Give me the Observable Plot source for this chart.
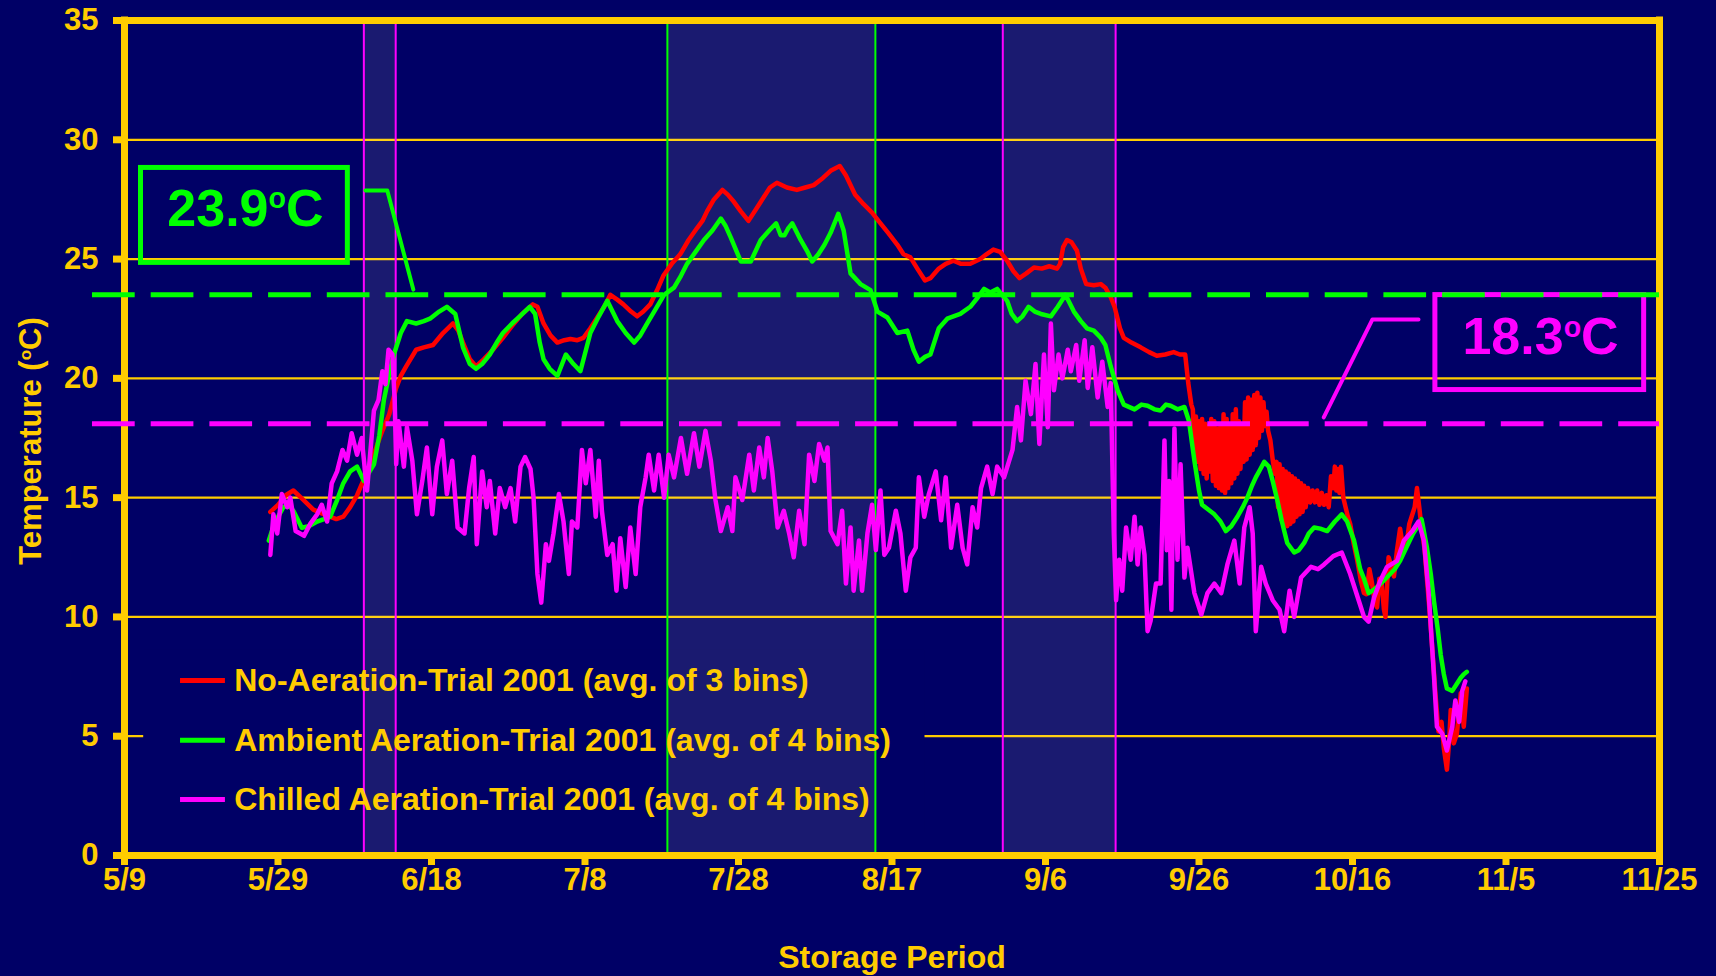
<!DOCTYPE html>
<html><head><meta charset="utf-8">
<script src="https://cdn.jsdelivr.net/npm/d3@7"></script>
<script src="https://cdn.jsdelivr.net/npm/@observablehq/plot@0.6"></script>
<style>
html,body{margin:0;padding:0;background:#000066;}
#chart{width:1716px;height:976px;overflow:hidden;}
</style></head><body><div id="chart"></div>
<script>
// ---------------- DATA ----------------
// Day offsets from 9 May 2001, temperature in °C
const noAeration = [[19.0,14.4],[20.0,14.7],[21.0,15.1],[22.0,15.3],[23.0,15.0],[24.6,14.5],[26.0,14.3],[27.6,14.1],[28.5,14.2],[29.4,14.6],[30.3,15.1],[31.1,15.7],[32.0,16.4],[32.8,17.1],[33.6,17.8],[34.5,18.5],[35.4,19.6],[36.0,20.1],[36.7,20.5],[38.0,21.2],[39.0,21.3],[40.2,21.4],[41.5,21.9],[42.8,22.3],[43.5,22.0],[44.1,21.5],[45.0,20.8],[45.8,20.5],[46.8,20.8],[48.0,21.2],[49.3,21.7],[50.5,22.2],[51.8,22.7],[53.2,23.1],[53.8,23.0],[54.6,22.3],[55.5,21.8],[56.4,21.5],[57.3,21.6],[58.1,21.65],[59.0,21.6],[59.8,21.7],[60.7,22.1],[61.6,22.55],[62.5,23.0],[63.3,23.5],[64.2,23.3],[65.0,23.1],[66.0,22.8],[66.8,22.6],[67.6,22.8],[68.5,23.1],[69.4,23.7],[70.2,24.3],[71.3,24.8],[72.4,25.2],[73.5,25.8],[74.6,26.3],[75.3,26.6],[75.9,27.0],[76.8,27.5],[77.9,27.9],[78.6,27.7],[79.4,27.4],[80.3,27.0],[81.3,26.6],[82.3,27.1],[83.3,27.6],[84.1,28.0],[85.0,28.2],[86.3,28.0],[87.6,27.9],[88.7,28.0],[89.8,28.1],[91.0,28.4],[92.0,28.7],[93.2,28.9],[94.0,28.5],[95.2,27.7],[96.3,27.3],[97.4,26.95],[98.5,26.5],[99.5,26.1],[100.7,25.6],[101.5,25.2],[102.4,25.07],[103.3,24.6],[104.3,24.1],[105.0,24.2],[106.1,24.6],[107.0,24.8],[108.0,24.93],[109.0,24.8],[110.2,24.8],[111.5,25.0],[112.3,25.2],[113.2,25.4],[114.1,25.3],[115.0,24.93],[115.8,24.5],[116.6,24.2],[117.5,24.4],[118.5,24.65],[119.5,24.6],[120.5,24.7],[121.5,24.6],[121.9,24.8],[122.3,25.5],[122.8,25.8],[123.4,25.7],[124.1,25.35],[124.6,24.6],[125.3,23.95],[126.3,23.9],[127.2,23.95],[127.8,23.8],[128.5,23.4],[129.0,23.0],[129.7,22.1],[130.2,21.7],[131.2,21.5],[132.4,21.3],[133.5,21.1],[134.5,20.95],[135.6,21.0],[136.7,21.1],[137.5,21.0],[138.2,21.0],[138.6,19.8],[139.0,18.9],
[139.2,18.7],[139.4,16.9],[139.6,18.4],[139.8,16.5],[140.0,18.2],[140.2,16.2],[140.4,18.3],[140.6,16.0],[140.8,18.1],[141.0,15.8],[141.2,18.0],[141.4,16.1],[141.6,18.3],[141.8,15.7],[142.0,18.2],[142.2,15.5],[142.4,17.9],[142.6,15.4],[142.8,18.0],[143.0,15.3],[143.2,18.5],[143.4,15.2],[143.6,18.3],[143.8,15.4],[144.0,18.0],[144.2,15.6],[144.4,18.5],[144.6,15.8],[144.8,18.7],[145.0,16.0],[145.2,18.2],[145.4,16.2],[145.6,18.0],[145.8,16.5],[146.0,19.0],[146.2,16.6],[146.4,19.2],[146.6,16.8],[146.8,19.1],[147.0,17.0],[147.2,19.3],[147.4,17.2],[147.6,19.4],[147.8,17.5],[148.0,19.2],[148.2,17.8],[148.4,19.0],[148.6,18.0],[148.8,18.6],[149.0,17.8],[149.3,17.4],[149.6,16.6],[149.9,16.0],[150.1,16.5],[150.3,14.6],[150.5,16.4],[150.7,14.1],[150.9,16.2],[151.1,13.9],[151.3,16.1],[151.5,13.8],[151.7,16.0],[151.9,13.9],[152.1,15.9],[152.3,14.0],[152.5,15.8],[152.7,14.2],[152.9,15.7],[153.1,14.3],[153.3,15.6],[153.5,14.4],[153.7,15.5],[153.9,14.6],[154.2,15.4],[154.5,14.8],[154.8,15.3],[155.1,14.8],[155.4,15.3],[155.7,14.7],[156.0,15.2],[156.3,14.7],[156.6,15.1],[156.9,14.6],[157.2,15.9],[157.5,15.4],[157.7,16.3],[157.9,15.3],[158.1,16.2],[158.3,15.2],[158.5,16.3],[158.8,15.0],[159.1,14.6],[159.4,14.2],[159.7,13.9],[160.2,13.0],[160.6,12.4],[161.1,11.5],[161.5,11.0],[161.8,10.95],[162.2,12.0],[162.5,11.5],[162.9,10.6],[163.2,10.4],[163.5,11.6],[163.8,11.4],[164.1,10.3],[164.3,10.0],[164.7,12.5],[165.0,12.2],[165.4,11.7],[165.8,12.8],[166.2,13.7],[166.6,12.9],[167.1,13.2],[167.4,13.9],[167.7,14.2],[168.1,14.6],[168.4,15.4],[168.7,14.6],[168.9,14.0],[169.4,12.8],[169.8,11.2],[170.1,10.0],[170.5,8.2],[170.8,6.8],[171.2,5.2],[171.6,5.6],[171.9,4.5],[172.3,3.6],[172.6,4.8],[172.8,6.1],[173.2,4.7],[173.6,5.1],[174.1,6.8],[174.5,5.4],[174.9,7.0]];

const ambientAeration = [[18.8,13.2],[19.5,13.9],[20.7,14.6],[21.4,14.7],[22.0,14.45],[23.1,13.74],[24.0,13.8],[25.1,14.0],[26.0,14.1],[26.8,14.2],[27.7,14.9],[28.5,15.6],[29.4,16.1],[30.3,16.3],[31.2,15.7],[32.5,16.4],[33.2,17.6],[33.8,19.1],[34.5,20.2],[35.1,21.0],[36.0,21.9],[36.8,22.4],[38.0,22.3],[39.0,22.4],[39.8,22.5],[41.0,22.8],[42.0,23.0],[43.1,22.7],[43.6,22.0],[44.1,21.3],[45.0,20.6],[45.8,20.4],[46.6,20.6],[47.6,21.0],[48.5,21.5],[49.3,21.9],[50.5,22.3],[51.5,22.6],[52.8,23.0],[53.5,22.7],[54.1,21.5],[54.6,20.8],[55.4,20.4],[56.4,20.1],[57.5,21.0],[58.5,20.6],[59.4,20.3],[60.7,21.9],[61.8,22.6],[62.9,23.25],[64.2,22.4],[65.3,21.9],[66.4,21.5],[67.2,21.8],[68.1,22.3],[69.2,22.9],[70.3,23.5],[71.6,23.8],[72.5,24.3],[73.3,24.8],[74.4,25.3],[75.5,25.8],[76.6,26.2],[77.7,26.7],[78.3,26.4],[79.0,25.9],[80.3,24.9],[81.6,24.9],[82.9,25.8],[84.0,26.2],[84.9,26.5],[85.5,26.0],[86.0,26.0],[86.5,26.3],[87.0,26.5],[88.1,25.8],[89.0,25.3],[89.6,24.9],[90.4,25.2],[91.2,25.6],[92.0,26.1],[93.0,26.9],[93.7,26.2],[94.6,24.4],[95.9,23.95],[97.2,23.7],[98.1,22.8],[99.4,22.55],[100.7,21.9],[102.0,22.0],[102.8,21.2],[103.5,20.7],[104.3,20.9],[105.0,21.0],[106.1,22.1],[107.2,22.5],[108.9,22.7],[110.2,23.0],[111.2,23.4],[112.0,23.75],[112.8,23.6],[113.7,23.75],[115.0,23.25],[115.6,22.7],[116.3,22.4],[117.0,22.6],[117.8,23.0],[118.6,22.8],[119.4,22.7],[120.7,22.6],[121.6,23.0],[122.6,23.5],[123.7,22.8],[124.6,22.4],[125.4,22.1],[126.3,22.0],[127.2,21.7],[127.8,21.4],[128.5,20.5],[129.4,19.5],[130.2,18.9],[131.6,18.7],[132.5,18.9],[133.3,18.85],[134.2,18.7],[135.0,18.65],[135.7,18.9],[136.3,18.85],[137.2,18.7],[138.1,18.8],[138.7,18.2],[139.4,16.55],[140.0,15.3],[140.4,14.7],[141.2,14.5],[142.0,14.3],[142.8,14.0],[143.5,13.6],[144.2,13.8],[145.0,14.2],[145.7,14.6],[146.3,15.0],[146.9,15.5],[147.4,15.85],[148.0,16.2],[148.5,16.5],[149.1,16.3],[149.6,15.7],[150.2,14.9],[150.8,14.0],[151.5,13.1],[152.4,12.7],[153.0,12.8],[153.7,13.1],[154.3,13.5],[155.0,13.75],[155.8,13.7],[156.7,13.6],[157.7,14.0],[158.6,14.3],[159.3,14.0],[160.2,13.2],[161.0,12.0],[161.5,11.6],[162.1,11.0],[162.6,11.1],[163.2,11.25],[164.0,11.5],[164.9,11.8],[165.5,12.0],[166.2,12.35],[167.0,12.9],[167.9,13.5],[168.5,13.8],[169.0,14.1],[169.7,12.9],[170.2,11.8],[170.6,10.7],[171.1,9.5],[171.5,8.4],[171.9,7.6],[172.3,7.0],[173.0,6.9],[173.6,7.2],[174.1,7.45],[174.5,7.6],[174.9,7.7]];

const chilledAeration = [[19.0,12.6],[19.4,14.3],[19.9,13.5],[20.5,15.15],[21.2,14.6],[21.6,15.0],[22.3,13.6],[23.4,13.4],[24.2,13.9],[25.1,14.3],[25.7,14.7],[26.4,14.0],[27.0,15.6],[27.7,16.1],[28.4,17.0],[29.0,16.55],[29.6,17.7],[30.3,16.8],[30.9,17.5],[31.6,15.3],[32.0,16.8],[32.5,18.65],[33.1,19.1],[33.6,20.3],[34.0,19.75],[34.4,21.2],[34.9,21.0],[35.2,19.1],[35.4,16.4],[35.7,18.2],[36.4,16.3],[36.8,17.95],[37.5,16.55],[38.1,14.3],[38.8,15.7],[39.4,17.1],[40.1,14.3],[40.7,16.3],[41.4,17.4],[42.0,15.15],[42.7,16.55],[43.4,13.75],[44.3,13.5],[44.9,15.4],[45.5,16.7],[45.9,13.05],[46.6,16.1],[47.2,14.6],[47.6,15.7],[48.3,13.5],[48.9,15.4],[49.6,14.6],[50.3,15.4],[50.9,14.0],[51.6,16.3],[52.2,16.7],[52.9,16.2],[53.3,15.0],[53.8,11.8],[54.3,10.6],[54.9,13.05],[55.3,12.35],[55.9,13.5],[56.6,15.15],[57.2,14.0],[57.9,11.8],[58.3,14.0],[59.0,13.75],[59.6,17.0],[60.1,15.6],[60.7,17.0],[61.4,14.2],[61.8,16.55],[62.2,14.45],[62.9,12.6],[63.6,13.05],[64.1,11.1],[64.6,13.3],[65.3,11.25],[65.9,13.75],[66.6,11.8],[67.2,14.6],[67.9,15.85],[68.3,16.8],[69.0,15.3],[69.6,16.8],[70.3,15.0],[70.9,16.8],[71.6,15.85],[72.5,17.5],[73.3,16.0],[74.2,17.7],[74.9,16.3],[75.7,17.8],[76.4,16.55],[77.0,14.9],[77.7,13.6],[78.6,14.6],[79.2,13.6],[79.6,15.85],[80.5,14.9],[81.4,16.8],[82.0,15.3],[82.7,17.1],[83.3,15.85],[83.8,17.5],[84.4,16.1],[85.1,13.75],[85.9,14.45],[86.6,13.5],[87.2,12.5],[87.9,14.45],[88.6,13.05],[89.2,16.8],[89.9,15.7],[90.5,17.25],[91.2,16.55],[91.6,17.1],[92.0,13.6],[92.9,13.05],[93.5,14.45],[94.0,11.4],[94.6,13.75],[95.0,11.1],[95.7,13.2],[96.1,11.1],[96.8,13.5],[97.4,14.7],[97.9,12.8],[98.5,15.3],[99.0,12.6],[99.6,12.9],[100.5,14.45],[101.1,13.5],[101.8,11.1],[102.4,12.5],[103.1,12.9],[103.5,15.85],[104.2,14.2],[104.8,15.15],[105.7,16.1],[106.4,14.05],[107.0,15.85],[107.7,12.9],[108.5,14.7],[109.2,12.9],[109.8,12.2],[110.5,14.6],[111.1,13.75],[111.6,15.4],[112.4,16.3],[113.1,15.15],[113.7,16.3],[114.6,15.85],[115.7,17.0],[116.3,18.8],[116.8,17.4],[117.4,19.9],[118.1,18.5],[118.7,20.6],[119.2,17.25],[119.8,21.0],[120.3,17.95],[120.7,22.3],[121.1,19.5],[121.7,21.0],[122.2,20.0],[122.9,21.2],[123.3,20.3],[124.0,21.4],[124.4,19.9],[125.1,21.6],[125.5,19.6],[126.1,21.3],[126.8,19.2],[127.4,20.7],[128.1,18.8],[128.5,19.8],[128.9,13.5],[129.2,10.7],[129.6,12.4],[130.0,11.1],[130.5,13.75],[131.1,12.4],[131.6,14.2],[132.0,12.2],[132.4,13.75],[132.9,12.6],[133.3,9.4],[133.7,9.85],[134.4,11.4],[135.0,11.4],[135.5,17.4],[135.8,12.8],[136.1,15.7],[136.4,10.3],[136.8,17.9],[137.2,12.4],[137.6,16.4],[138.1,11.65],[138.5,12.9],[139.4,11.0],[140.3,10.1],[141.1,11.0],[142.0,11.4],[142.9,11.0],[143.7,12.2],[144.6,13.2],[145.3,11.4],[145.9,13.75],[146.6,14.6],[147.0,13.5],[147.4,9.4],[148.1,12.1],[148.7,11.4],[149.6,10.7],[150.5,10.3],[151.1,9.4],[151.8,11.1],[152.4,10.0],[153.3,11.65],[154.6,12.1],[155.5,12.0],[156.3,12.2],[157.5,12.55],[158.6,12.7],[159.7,11.8],[160.8,10.7],[161.5,10.0],[162.1,9.8],[162.8,10.8],[163.6,11.5],[164.5,12.1],[165.8,12.35],[166.7,13.2],[167.8,13.6],[168.6,14.0],[169.3,13.2],[169.9,11.1],[170.6,7.6],[171.0,5.4],[171.7,5.1],[172.3,4.4],[173.0,5.4],[173.4,6.5],[173.9,5.6],[174.3,6.9],[174.7,7.3]];

const seriesNames = ["No-Aeration-Trial 2001 (avg. of 3 bins)", "Ambient Aeration-Trial 2001 (avg. of 4 bins)", "Chilled Aeration-Trial 2001 (avg. of 4 bins)"];
const xTickDays = [0, 20, 40, 60, 80, 100, 120, 140, 160, 180, 200];
const xTickLabels = ["5/9", "5/29", "6/18", "7/8", "7/28", "8/17", "9/6", "9/26", "10/16", "11/5", "11/25"];
const yTicks = [0, 5, 10, 15, 20, 25, 30, 35];
const gridTicks = [5, 10, 15, 20, 25, 30];
// highlighted periods (start day, end day)
const periodStarts = [31.25, 70.8, 114.5];
const periodEnds = [35.4, 97.9, 129.2];
// threshold lines: label text and level as drawn
const thresholdLabels = ["23.9°C", "18.3°C"];
const thresholdLevels = [23.5, 18.1];
const xTitle = "Storage Period";
const yTitle = "Temperature (°C)";

// ---------------- STYLE / LAYOUT ----------------
const NAVY = "#000066", YELLOW = "#FFCC00";
const seriesColors = ["#FF0000", "#00FF00", "#FF00FF"];
const periodColors = ["#FF00FF", "#00FF00", "#FF00FF"];
const thresholdColors = ["#00FF00", "#FF00FF"];
const FONT = "'Liberation Sans', Arial, Helvetica, sans-serif";
const BASE = Date.UTC(2001, 4, 9);
const toDate = d => new Date(BASE + d * 864e5);

const series = [noAeration, ambientAeration, chilledAeration].flatMap((arr, k) =>
  arr.map(([d, t]) => ({date: toDate(d), temp: t, k})));
const periods = periodStarts.map((s, i) => ({x1: toDate(s), x2: toDate(periodEnds[i]), color: periodColors[i]}));
const xTickDates = xTickDays.map(toDate);
const tickLabelOf = new Map(xTickDays.map((d, i) => [+toDate(d), xTickLabels[i]]));

const legendRowsY = [7.34, 4.83, 2.35];
const legend = seriesNames.map((name, i) => ({name, color: seriesColors[i], y: legendRowsY[i]}));
const legendBox = {x1: toDate(2.5), x2: toDate(104.3), y1: 1.0, y2: 8.6};

const boxes = [
  {x1: toDate(2.15), x2: toDate(29.1), y1: 24.84, y2: 28.82, color: thresholdColors[0]},
  {x1: toDate(170.8), x2: toDate(198.0), y1: 19.51, y2: 23.49, color: thresholdColors[1]}
];
const boxText = [
  {x: toDate(15.76), y: 27.1, text: thresholdLabels[0], color: thresholdColors[0]},
  {x: toDate(184.5), y: 21.73, text: thresholdLabels[1], color: thresholdColors[1]}
];
const connectors = [
  [[31.38, 27.87], [34.24, 27.87], [37.63, 23.72]].map(([d, t]) => ({date: toDate(d), temp: t, k: 0})),
  [[168.6, 22.47], [162.6, 22.47], [156.25, 18.36]].map(([d, t]) => ({date: toDate(d), temp: t, k: 1}))
].flat();
const thresholds = thresholdLevels.map((v, i) => ({v, color: thresholdColors[i]}));

const plot = Plot.plot({
  width: 1716, height: 976,
  marginLeft: 124, marginRight: 57, marginTop: 20, marginBottom: 121,
  style: {background: NAVY, fontFamily: FONT, fontWeight: "bold", color: YELLOW, overflow: "visible"},
  x: {type: "utc", domain: [toDate(0), toDate(200)]},
  y: {domain: [0, 35]},
  marks: [
    Plot.ruleY(gridTicks, {stroke: YELLOW, strokeWidth: 2.3}),
    Plot.rect([legendBox], {x1: "x1", x2: "x2", y1: "y1", y2: "y2", fill: NAVY}),
    Plot.rect(periods, {x1: "x1", x2: "x2", y1: 0, y2: 34.9, fill: "#ffffca", fillOpacity: 0.1, stroke: "color", strokeWidth: 2}),
    ...[0, 1, 2].map(k => Plot.line(series.filter(d => d.k === k), {x: "date", y: "temp", stroke: seriesColors[k], strokeWidth: 4.5, strokeLinejoin: "round"})),
    Plot.ruleY([0, 35], {stroke: YELLOW, strokeWidth: 7, strokeLinecap: "square"}),
    Plot.ruleX([toDate(0), toDate(200)], {y1: 0, y2: 35, stroke: YELLOW, strokeWidth: 7, strokeLinecap: "square"}),
    Plot.axisY({ticks: yTicks, tickSize: 11, tickPadding: 15, strokeWidth: 7, stroke: YELLOW, fill: YELLOW, fontSize: 31, fontWeight: "bold", label: null}),
    Plot.axisX({ticks: xTickDates, tickFormat: d => tickLabelOf.get(+d), tickSize: 10, tickPadding: 2, strokeWidth: 7, stroke: YELLOW, fill: YELLOW, fontSize: 31, fontWeight: "bold", label: null}),
    Plot.ruleY(legend, {y: "y", x1: toDate(7.3), x2: toDate(13.15), stroke: "color", strokeWidth: 5}),
    Plot.text(legend, {x: toDate(14.3), y: "y", text: "name", textAnchor: "start", lineAnchor: "middle", fill: YELLOW, fontSize: 32, fontWeight: "bold"}),
    Plot.rect(boxes, {x1: "x1", x2: "x2", y1: "y1", y2: "y2", fill: "none", stroke: "color", strokeWidth: 5}),
    ...[0, 1].map(k => Plot.line(connectors.filter(d => d.k === k), {x: "date", y: "temp", stroke: thresholdColors[k], strokeWidth: 4})),
    Plot.ruleY(thresholds, {y: "v", x1: toDate(-4.17), x2: toDate(200), stroke: "color", strokeWidth: 5, strokeDasharray: "42.7,16"}),
    Plot.text(boxText, {x: "x", y: "y", text: "text", fill: "color", fontSize: 52, fontWeight: "bold", lineAnchor: "middle"}),
    Plot.text([xTitle], {frameAnchor: "bottom", dy: 102, lineAnchor: "middle", fill: YELLOW, fontSize: 32, fontWeight: "bold"}),
    Plot.text([yTitle], {frameAnchor: "left", dx: -93, dy: 3, rotate: -90, textAnchor: "middle", lineAnchor: "middle", fill: YELLOW, fontSize: 31, fontWeight: "bold"})
  ]
});

// superscript "o" for the degree marks, as in the original
function superscriptDegrees(root) {
  const ns = "http://www.w3.org/2000/svg";
  root.querySelectorAll("text").forEach(t => {
    if (!t.textContent.includes("°") || t.children.length) return;
    const [a, b] = t.textContent.split("°");
    t.textContent = "";
    const s1 = document.createElementNS(ns, "tspan"); s1.textContent = a;
    const s2 = document.createElementNS(ns, "tspan"); s2.textContent = "o";
    s2.setAttribute("font-size", "55%"); s2.setAttribute("dy", "-0.6em");
    const s3 = document.createElementNS(ns, "tspan"); s3.textContent = b; s3.setAttribute("dy", "0.33em");
    t.append(s1, s2, s3);
  });
}
superscriptDegrees(plot);
document.getElementById("chart").appendChild(plot);
</script></body></html>
